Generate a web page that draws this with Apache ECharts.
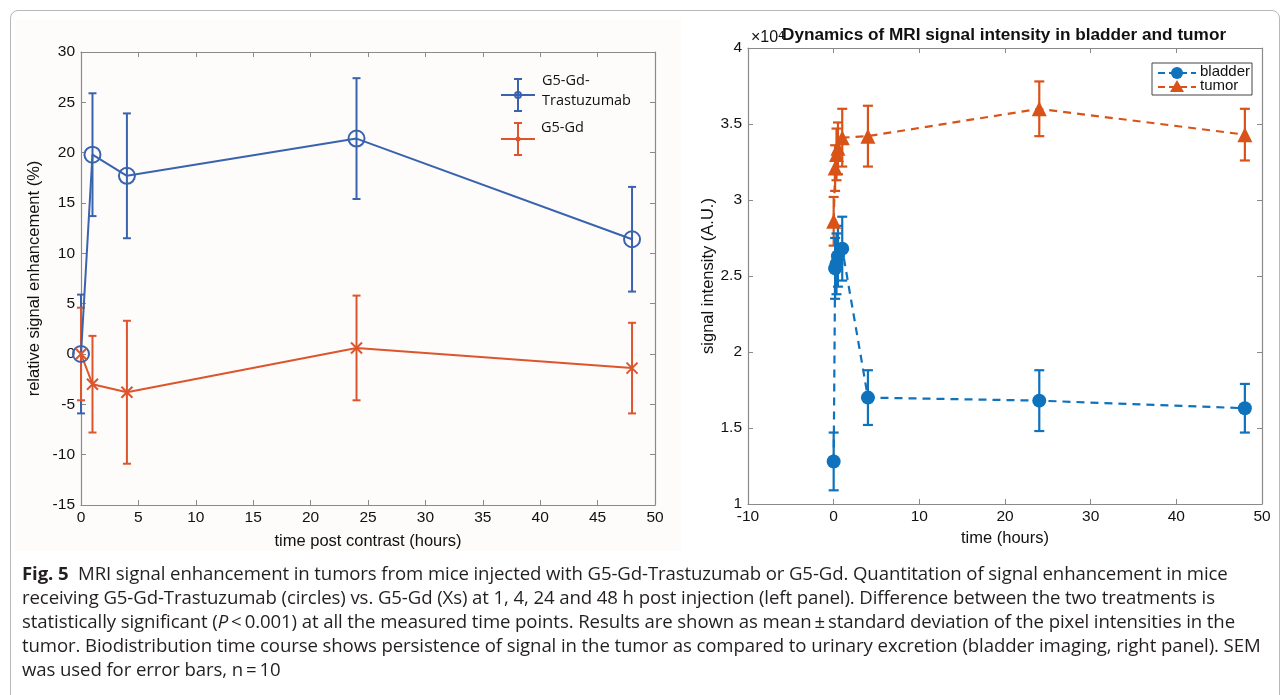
<!DOCTYPE html>
<html><head><meta charset="utf-8">
<script src="https://cdn.jsdelivr.net/npm/echarts@6/dist/echarts.min.js"></script>
<style>
html,body{margin:0;padding:0;background:#fff;width:1285px;height:695px;overflow:hidden;}
#card{position:absolute;left:10px;top:10px;width:1268px;height:700px;border:1px solid #b8b8b8;border-radius:8px;}
#chart{position:absolute;left:0;top:0;width:1285px;height:695px;}
#caption{position:absolute;left:22px;top:561px;font-family:'Open Sans',sans-serif;font-size:18.6px;line-height:24px;color:#231f20;white-space:nowrap;letter-spacing:-0.1px;}
</style></head>
<body>
<div id="card"></div>
<div id="chart"></div>
<div id="caption">
<div><b>Fig. 5</b>&nbsp; MRI signal enhancement in tumors from mice injected with G5-Gd-Trastuzumab or G5-Gd. Quantitation of signal enhancement in mice</div>
<div>receiving G5-Gd-Trastuzumab (circles) vs. G5-Gd (Xs) at 1, 4, 24 and 48 h post injection (left panel). Difference between the two treatments is</div>
<div>statistically significant (<i>P</i>&thinsp;&lt;&thinsp;0.001) at all the measured time points. Results are shown as mean&thinsp;±&thinsp;standard deviation of the pixel intensities in the</div>
<div>tumor. Biodistribution time course shows persistence of signal in the tumor as compared to urinary excretion (bladder imaging, right panel). SEM</div>
<div>was used for error bars, n&thinsp;=&thinsp;10</div>
</div>
<script>
// ---- data: left panel ----
const leftTimes = [0, 1, 4, 24, 48];
const trastMean = [0, 19.8, 17.7, 21.4, 11.4];
const trastErr  = [5.9, 6.1, 6.2, 6.0, 5.2];
const gdMean    = [0, -3.0, -3.8, 0.6, -1.4];
const gdErr     = [4.6, 4.8, 7.1, 5.2, 4.5];
// ---- data: right panel (x10^4) ----
const rightTimes  = [0, 0.17, 0.33, 0.5, 1, 4, 24, 48];
const bladderMean = [1.28, 2.55, 2.58, 2.63, 2.68, 1.70, 1.68, 1.63];
const bladderErr  = [0.19, 0.20, 0.20, 0.20, 0.21, 0.18, 0.20, 0.16];
const tumorMean   = [2.86, 3.21, 3.30, 3.34, 3.41, 3.42, 3.60, 3.43];
const tumorErr    = [0.16, 0.15, 0.17, 0.17, 0.19, 0.20, 0.18, 0.17];

const BLUE_L = '#3a63ad', RED_L = '#dc552c';
const BLUE_R = '#0f72bd', RED_R = '#d95319';
const FONT = 'Liberation Sans';
const AXC = '#8a8a8a';

function pts(t, m){ return t.map((x,i)=>[x, m[i]]); }
function errData(t, m, e){ return t.map((x,i)=>[x, m[i]-e[i], m[i]+e[i]]); }
function errSeries(data, color, xi, yi, cap, lw){
  return {type:'custom', xAxisIndex:xi, yAxisIndex:yi, data:data, z:3, silent:true,
    renderItem:function(params, api){
      const x = api.value(0);
      const a = api.coord([x, api.value(1)]), b = api.coord([x, api.value(2)]);
      const st = {stroke:color, lineWidth:lw};
      return {type:'group', children:[
        {type:'line', shape:{x1:a[0],y1:a[1],x2:b[0],y2:b[1]}, style:st},
        {type:'line', shape:{x1:a[0]-cap,y1:a[1],x2:a[0]+cap,y2:a[1]}, style:st},
        {type:'line', shape:{x1:b[0]-cap,y1:b[1],x2:b[0]+cap,y2:b[1]}, style:st}
      ]};
    }};
}
function xAx(gi, min, max, interval, top, name, gap){
  return {type:'value', gridIndex:gi, min:min, max:max, interval:interval, position: top?'top':'bottom',
    axisLine:{show:true, onZero:false, lineStyle:{color:AXC, width:1.2}},
    axisTick:{show:true, inside:true, length:5, lineStyle:{color:AXC}},
    axisLabel:{show:!top, color:'#111', fontFamily:FONT, fontSize:15.5, margin:5},
    splitLine:{show:false},
    name: top?'':name, nameLocation:'middle', nameGap:gap,
    nameTextStyle:{color:'#111', fontFamily:FONT, fontSize:16.5}};
}
function yAx(gi, min, max, interval, right, name, gap){
  return {type:'value', gridIndex:gi, min:min, max:max, interval:interval, position: right?'right':'left',
    axisLine:{show:true, onZero:false, lineStyle:{color:AXC, width:1.2}},
    axisTick:{show:true, inside:true, length:5, lineStyle:{color:AXC}},
    axisLabel:{show:!right, color:'#111', fontFamily:FONT, fontSize:15.5, margin:6},
    splitLine:{show:false},
    name: right?'':name, nameLocation:'middle', nameGap:gap, nameRotate:90,
    nameTextStyle:{color:'#111', fontFamily:FONT, fontSize:16.5}};
}

const chart = echarts.init(document.getElementById('chart'), null, {renderer:'canvas'});
const option = {
  animation:false,
  backgroundColor:'transparent',
  grid:[
    {left:81, top:52, width:574, height:453},
    {left:748, top:48, width:514, height:456}
  ],
  xAxis:[
    xAx(0, 0, 50, 5, false, 'time post contrast (hours)', 28),
    xAx(0, 0, 50, 5, true),
    xAx(1, -10, 50, 10, false, 'time (hours)', 22),
    xAx(1, -10, 50, 10, true)
  ],
  yAxis:[
    yAx(0, -15, 30, 5, false, 'relative signal enhancement (%)', 38),
    yAx(0, -15, 30, 5, true),
    yAx(1, 1, 4, 0.5, false, 'signal intensity (A.U.)', 30),
    yAx(1, 1, 4, 0.5, true)
  ],
  graphic:[
    {type:'rect', z:-10, shape:{x:15, y:20, width:666, height:531}, style:{fill:'#fdfcfb'}},
    // left legend
    {type:'group', children:[
      {type:'line', shape:{x1:518,y1:79,x2:518,y2:111}, style:{stroke:BLUE_L, lineWidth:2}},
      {type:'line', shape:{x1:514,y1:79,x2:522,y2:79}, style:{stroke:BLUE_L, lineWidth:2}},
      {type:'line', shape:{x1:514,y1:111,x2:522,y2:111}, style:{stroke:BLUE_L, lineWidth:2}},
      {type:'line', shape:{x1:501,y1:95,x2:535,y2:95}, style:{stroke:BLUE_L, lineWidth:2}},
      {type:'circle', shape:{cx:518,cy:95,r:3}, style:{fill:'none', stroke:BLUE_L, lineWidth:2}},
      {type:'text', x:542, y:71, style:{text:'G5-Gd-\nTrastuzumab', fill:'#111', font:'14.5px "Open Sans"', lineHeight:20}},
      {type:'line', shape:{x1:518,y1:123,x2:518,y2:155}, style:{stroke:RED_L, lineWidth:2}},
      {type:'line', shape:{x1:514,y1:123,x2:522,y2:123}, style:{stroke:RED_L, lineWidth:2}},
      {type:'line', shape:{x1:514,y1:155,x2:522,y2:155}, style:{stroke:RED_L, lineWidth:2}},
      {type:'line', shape:{x1:501,y1:139,x2:535,y2:139}, style:{stroke:RED_L, lineWidth:2}},
      {type:'circle', shape:{cx:518,cy:139,r:2.5}, style:{fill:RED_L}},
      {type:'text', x:541, y:120, style:{text:'G5-Gd', fill:'#111', font:'14.5px "Open Sans"'}}
    ]},
    // right: exponent and title
    {type:'text', x:751, y:30, z:5, style:{rich:{a:{fontFamily:FONT, fontSize:16, fill:'#111'}, s:{fontFamily:FONT, fontSize:11, fill:'#111', verticalAlign:'top'}}, text:'{a|×10}{s|4}'}},
    {type:'text', x:782, y:27, z:6, style:{text:'Dynamics of MRI signal intensity in bladder and tumor', fill:'#111', font:'bold 17.2px "Liberation Sans"'}},
    // right legend
    {type:'group', z:10, children:[
      {type:'rect', shape:{x:1152,y:63,width:100,height:32}, style:{fill:'#fff', stroke:'#444', lineWidth:1}},
      {type:'line', shape:{x1:1158,y1:73,x2:1196,y2:73}, style:{stroke:BLUE_R, lineWidth:2, lineDash:[7,4]}},
      {type:'circle', shape:{cx:1177,cy:73,r:6}, style:{fill:BLUE_R}},
      {type:'text', x:1200, y:64, style:{text:'bladder', fill:'#111', font:'15px "Liberation Sans"'}},
      {type:'line', shape:{x1:1158,y1:87,x2:1196,y2:87}, style:{stroke:RED_R, lineWidth:2, lineDash:[7,4]}},
      {type:'polygon', shape:{points:[[1177,80],[1184,92],[1170,92]]}, style:{fill:RED_R}},
      {type:'text', x:1200, y:78, style:{text:'tumor', fill:'#111', font:'15px "Liberation Sans"'}}
    ]}
  ],
  series:[
    errSeries(errData(leftTimes, trastMean, trastErr), BLUE_L, 0, 0, 4, 2),
    errSeries(errData(leftTimes, gdMean, gdErr), RED_L, 0, 0, 4, 2),
    {type:'line', xAxisIndex:0, yAxisIndex:0, data:pts(leftTimes, trastMean), z:4,
      symbol:'circle', symbolSize:16, showAllSymbol:true,
      lineStyle:{color:BLUE_L, width:2}, itemStyle:{color:'none', borderColor:BLUE_L, borderWidth:2}},
    {type:'line', xAxisIndex:0, yAxisIndex:0, data:pts(leftTimes, gdMean), z:4,
      symbol:'path://M0,0L10,10M10,0L0,10', symbolSize:11, showAllSymbol:true,
      lineStyle:{color:RED_L, width:2}, itemStyle:{color:'none', borderColor:RED_L, borderWidth:2}},
    errSeries(errData(rightTimes, tumorMean, tumorErr), RED_R, 2, 2, 5, 2.2),
    errSeries(errData(rightTimes, bladderMean, bladderErr), BLUE_R, 2, 2, 5, 2.2),
    {type:'line', xAxisIndex:2, yAxisIndex:2, data:pts(rightTimes, tumorMean), z:4,
      symbol:'triangle', symbolSize:15, showAllSymbol:true,
      lineStyle:{color:RED_R, width:2.2, type:[8,6]}, itemStyle:{color:RED_R}},
    {type:'line', xAxisIndex:2, yAxisIndex:2, data:pts(rightTimes, bladderMean), z:4,
      symbol:'circle', symbolSize:14, showAllSymbol:true,
      lineStyle:{color:BLUE_R, width:2.2, type:[8,6]}, itemStyle:{color:BLUE_R}}
  ]
};
chart.setOption(option);
</script>
</body></html>
